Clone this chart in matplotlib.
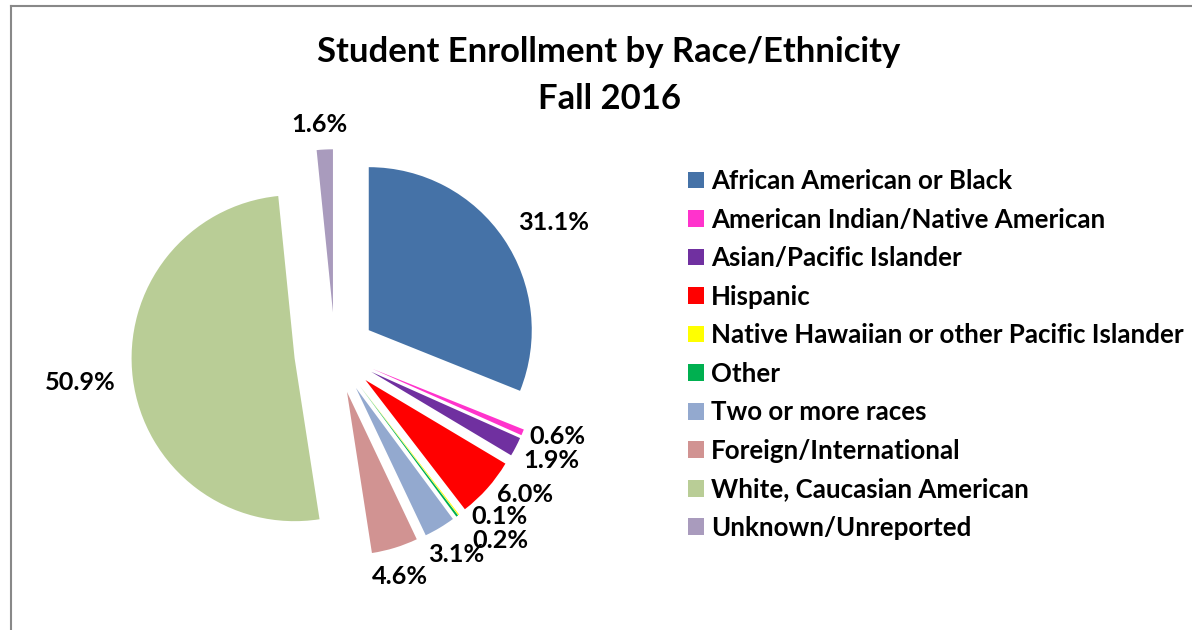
import matplotlib
matplotlib.use("Agg")
import matplotlib.pyplot as plt
from matplotlib.lines import Line2D
from matplotlib.patches import Patch

# ---------------- data ----------------
categories = [
    "African American or Black",
    "American Indian/Native American",
    "Asian/Pacific Islander",
    "Hispanic",
    "Native Hawaiian or other Pacific Islander",
    "Other",
    "Two or more races",
    "Foreign/International",
    "White, Caucasian American",
    "Unknown/Unreported",
]
percent = [31.1, 0.6, 1.9, 6.0, 0.1, 0.2, 3.1, 4.6, 50.9, 1.6]
pct_labels = ["31.1%", "0.6%", "1.9%", "6.0%", "0.1%", "0.2%", "3.1%", "4.6%", "50.9%", "1.6%"]
title_lines = ["Student Enrollment by Race/Ethnicity", "Fall 2016"]

# ---------------- style / layout ----------------
colors = ["#4572A7", "#FF33CC", "#7030A0", "#FF0000", "#FFFF00",
          "#00B050", "#93A9CF", "#D19392", "#B9CD96", "#A99BBD"]
W, H = 1192, 630
FONT = ["Lato", "DejaVu Sans"]
pie_center_img = (335, 353)
pie_radius = 163
explode_frac = 0.25
# label anchor points (image pixel coords, y down)
label_pos_img = [(554, 222), (557, 436), (551, 461), (525, 494), (500, 517),
                 (500, 541), (456, 554), (400, 576), (80, 383), (319, 125)]

def Y(y):
    return H - y

fig = plt.figure(figsize=(W / 100, H / 100), dpi=100)
ax = fig.add_axes([0, 0, 1, 1])

wedges, _ = ax.pie(
    percent,
    colors=colors,
    startangle=90,
    counterclock=False,
    radius=pie_radius,
    center=(pie_center_img[0], Y(pie_center_img[1])),
    explode=[explode_frac * pie_radius] * len(percent),
    wedgeprops=dict(linewidth=0),
)
ax.set_xlim(0, W)
ax.set_ylim(0, H)
ax.set_aspect("equal")
ax.axis("off")

renderer = fig.canvas.get_renderer()

def fit_size(text, target_px, base=20):
    t = fig.text(0, 0, text, fontsize=base, fontweight="bold", family=FONT)
    w = t.get_window_extent(renderer).width
    t.remove()
    return base * target_px / w

# title
title_fs = fit_size(title_lines[0], 582)
ax.text(609, Y(52), title_lines[0], ha="center", va="center",
        fontsize=title_fs, fontweight="bold", family=FONT)
ax.text(609, Y(99), title_lines[1], ha="center", va="center",
        fontsize=title_fs, fontweight="bold", family=FONT)

# data labels
lab_fs = fit_size("50.9%", 71)
for (x, y), s in zip(label_pos_img, pct_labels):
    ax.text(x, Y(y), s, ha="center", va="center", fontsize=lab_fs,
            fontweight="bold", family=FONT)

# legend
leg_fs = fit_size(categories[4], 470)
handles = [Patch(facecolor=c, edgecolor="none") for c in colors]
fs_px = leg_fs * 100 / 72
leg = ax.legend(
    handles, categories,
    loc="upper left",
    bbox_to_anchor=(688 / W, 1 - 169 / H),
    bbox_transform=fig.transFigure,
    frameon=False,
    prop=dict(family=FONT, weight="bold", size=leg_fs),
    handlelength=16 / fs_px,
    handleheight=16 / fs_px,
    handletextpad=7 / fs_px,
    labelspacing=0.42 + 3.7 / fs_px,
    borderpad=0,
    borderaxespad=0,
)

# chart border (top and left edges visible)
fig.add_artist(Line2D([11 / W, 1], [1 - 6 / H, 1 - 6 / H], transform=fig.transFigure,
                      color="#888888", linewidth=1.5))
fig.add_artist(Line2D([11 / W, 11 / W], [0, 1 - 6 / H], transform=fig.transFigure,
                      color="#888888", linewidth=1.5))

fig.savefig("out.png", dpi=100, facecolor="white")
